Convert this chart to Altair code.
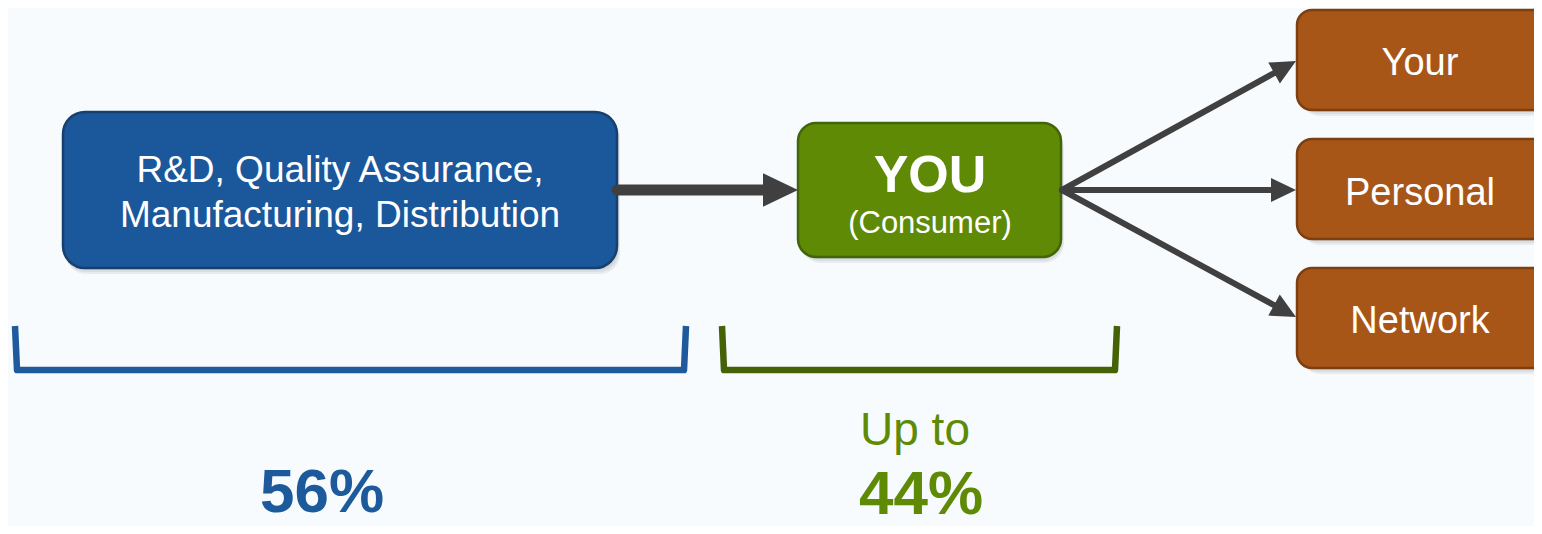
import math
import altair as alt
import pandas as pd

# ---------------- frame (reference-picture pixel coordinates) ----------------
X_DOMAIN = [8, 1534]
Y_DOMAIN = [8, 526]
BG = "#f7fbfd"

# ---------------- boxes ----------------
box_id = ["chain", "you", "your", "personal", "network"]
box_group = ["blue", "green", "orange", "orange", "orange"]
box_left = [63, 798, 1297, 1297, 1297]
box_right = [617, 1061, 1548, 1548, 1548]
box_top = [112, 123, 10, 139, 268]
box_bottom = [268, 257, 110, 239, 368]

# ---------------- arrows ----------------
arrow_x0 = [617, 1062, 1062, 1062]
arrow_y0 = [190, 190, 190, 190]
arrow_x1 = [798, 1296, 1296, 1296]
arrow_y1 = [190, 61, 190, 317]
arrow_head_len = [35, 25, 25, 25]
arrow_line_w = [11, 6, 6, 6]

# ---------------- brackets ----------------
bracket_id = ["supply", "consumer"]
bracket_left = [15, 722]
bracket_right = [686, 1117]
bracket_top = [326, 326]
bracket_bottom = [370, 370]
bracket_color = ["#1f5a9c", "#456207"]

# ---------------- labels ----------------
label_text = ["R&D, Quality Assurance,", "Manufacturing, Distribution", "YOU", "(Consumer)",
              "Your", "Personal", "Network", "56%", "Up to", "44%"]
label_x = [340, 340, 930, 930, 1420, 1420, 1420, 322, 915, 921]
label_y = [182, 227, 192, 233, 75, 205, 333, 512, 445, 514]
label_size = [37, 37, 52, 31, 38, 38, 38, 62, 46, 62]
label_bold = [False, False, True, False, False, False, False, True, False, True]
label_color = ["#ffffff", "#ffffff", "#ffffff", "#ffffff", "#ffffff", "#ffffff", "#ffffff",
               "#1d5a9c", "#5e8a06", "#5e8a06"]

# ---------------- build tables ----------------
xs = alt.Scale(domain=X_DOMAIN, nice=False, zero=False)
ys = alt.Scale(domain=Y_DOMAIN, nice=False, zero=False, reverse=True)


def X(f):
    return alt.X(f, type="quantitative", scale=xs, axis=None)


def Y(f):
    return alt.Y(f, type="quantitative", scale=ys, axis=None)


boxes = pd.DataFrame({"id": box_id, "group": box_group, "x0": box_left, "x1": box_right,
                      "y0": box_top, "y1": box_bottom})

shadow_rows = []
for k, (dx, dy) in enumerate([(1, 2), (2, 4), (3, 6)]):
    s = boxes.copy()
    s["x0"] = s["x0"] + dx
    s["x1"] = s["x1"] + dx
    s["y0"] = s["y0"] + dy
    s["y1"] = s["y1"] + dy
    s["grp"] = f"{k}"
    shadow_rows.append(s)
shadows = pd.concat(shadow_rows, ignore_index=True)

arrows = pd.DataFrame({"x0": arrow_x0, "y0": arrow_y0, "x1": arrow_x1, "y1": arrow_y1,
                       "L": arrow_head_len, "w": arrow_line_w})
arrows["ang"] = [math.degrees(math.atan2(r.y1 - r.y0, r.x1 - r.x0)) % 360 for r in arrows.itertuples()]
arrows["bx"] = [r.x1 - (r.L - 1) * math.cos(math.radians(r.ang)) for r in arrows.itertuples()]
arrows["by"] = [r.y1 - (r.L - 1) * math.sin(math.radians(r.ang)) for r in arrows.itertuples()]
arrows["size"] = [4 * L * L for L in arrows["L"]]

bpts = []
for i, b in enumerate(bracket_id):
    xl, xr, t, bt = bracket_left[i], bracket_right[i], bracket_top[i], bracket_bottom[i]
    pts = [(xl, t), (xl + 2, bt), (xr - 2, bt), (xr, t)]
    for o, (px, py) in enumerate(pts):
        bpts.append({"id": b, "o": o, "x": px, "y": py, "c": bracket_color[i]})
brackets = pd.DataFrame(bpts)

labels = pd.DataFrame({"text": label_text, "x": label_x, "y": label_y, "size": label_size,
                       "bold": label_bold, "color": label_color})

# ---------------- layers ----------------
shadow_layer = alt.Chart(shadows).mark_rect(cornerRadius=20, color="#000000", opacity=0.06).encode(
    x=X("x0"), x2="x1", y=Y("y0"), y2="y1"
)

box_styles = {"blue": ("#1b579b", "#17406f", 22),
              "green": ("#5e8a06", "#416508", 18),
              "orange": ("#a85617", "#7d3e10", 15)}
box_layers = []
for g, (fill, stroke, r) in box_styles.items():
    box_layers.append(
        alt.Chart(boxes[boxes["group"] == g]).mark_rect(
            cornerRadius=r, fill=fill, stroke=stroke, strokeWidth=2.5
        ).encode(x=X("x0"), x2="x1", y=Y("y0"), y2="y1")
    )

arrow_lines = alt.Chart(arrows).mark_rule(color="#404040", strokeCap="round").encode(
    x=X("x0"), y=Y("y0"), x2="bx", y2="by",
    strokeWidth=alt.StrokeWidth("w:Q", scale=None),
)

arrow_heads = alt.Chart(arrows).mark_point(
    shape="M0,0L-1,-0.48L-1,0.48Z", filled=True, color="#404040", opacity=1, strokeWidth=0
).encode(
    x=X("x1"), y=Y("y1"),
    size=alt.Size("size:Q", scale=None),
    angle=alt.Angle("ang:Q", scale=None),
)

bracket_layer = alt.Chart(brackets).mark_line(strokeWidth=6.5, strokeJoin="round", strokeCap="butt").encode(
    x=X("x"), y=Y("y"), order="o:Q", detail="id:N",
    color=alt.Color("c:N", scale=None),
)


def text_layer(df, weight):
    return alt.Chart(df).mark_text(
        font="Liberation Sans", fontWeight=weight, align="center", baseline="alphabetic"
    ).encode(
        x=X("x"), y=Y("y"), text="text:N",
        size=alt.Size("size:Q", scale=None),
        color=alt.Color("color:N", scale=None),
    )


text_normal = text_layer(labels[~labels["bold"]], "normal")
text_bold = text_layer(labels[labels["bold"]], "bold")

chart = alt.layer(
    shadow_layer, *box_layers, arrow_lines, arrow_heads, bracket_layer, text_normal, text_bold
).properties(
    width=X_DOMAIN[1] - X_DOMAIN[0],
    height=Y_DOMAIN[1] - Y_DOMAIN[0],
    padding=0,
    autosize=alt.AutoSizeParams(type="none"),
    background=BG,
).configure_view(strokeWidth=0)

chart.save("out.html", embed_options={"renderer": "svg", "actions": False})
